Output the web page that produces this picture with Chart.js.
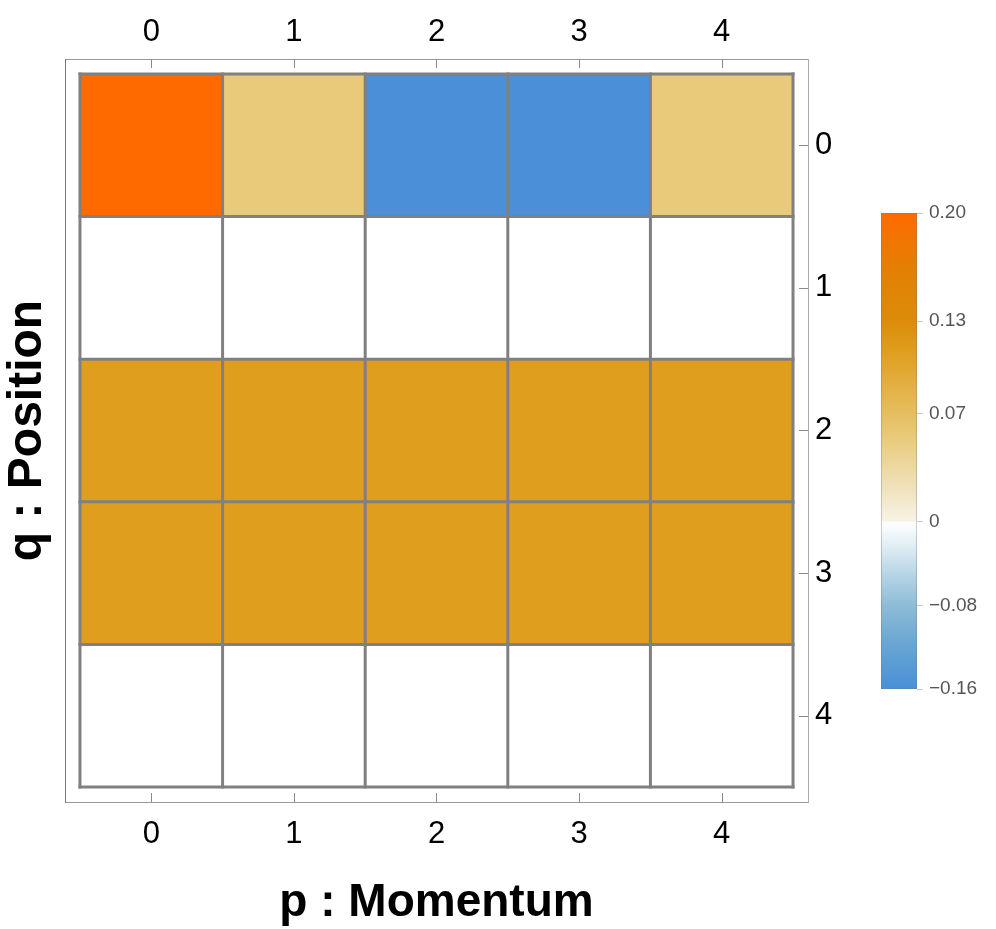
<!DOCTYPE html>
<html>
<head>
<meta charset="utf-8">
<script src="https://cdn.jsdelivr.net/npm/chart.js@4/dist/chart.umd.min.js"></script>
<style>
  html, body { margin: 0; padding: 0; background: #fff; }
  #wrap { position: relative; width: 996px; height: 929px; }
  #wrap canvas { position: absolute; left: 0; top: 0; }
</style>
</head>
<body>
<div id="wrap">
  <canvas id="matriz" width="996" height="929"></canvas>
  <canvas id="barra" width="996" height="929"></canvas>
</div>
<script>
// momentum (columns) and position (rows)
const momento = [0, 1, 2, 3, 4];
const posicion = [0, 1, 2, 3, 4];

// one array per row q, values for p = 0..4
const filaQ0 = [0.20, 0.055, -0.16, -0.16, 0.055];
const filaQ1 = [0, 0, 0, 0, 0];
const filaQ2 = [0.11, 0.11, 0.11, 0.11, 0.11];
const filaQ3 = [0.11, 0.11, 0.11, 0.11, 0.11];
const filaQ4 = [0, 0, 0, 0, 0];
const filas = [filaQ0, filaQ1, filaQ2, filaQ3, filaQ4];

// colour bar ticks
const barraTicks = [0.20, 0.13, 0.07, 0, -0.08, -0.16];
const barraEtiquetas = ['0.20', '0.13', '0.07', '0', '\u22120.08', '\u22120.16'];
const vMax = 0.20;
const vMin = -0.16;

// colour map stops (value, colour)
const paradas = [
    [0.20, '#ff6a00'],
    [0.165, '#e47f04'],
    [0.13, '#db8c0a'],
    [0.11, '#e09e1e'],
    [0.055, '#e8ca7a'],
    [0.02, '#f0e3bf'],
    [0.0005, '#f7f3e4'],
    [0, '#ffffff'],
    [-0.02, '#e4f0f6'],
    [-0.05, '#b7d5e6'],
    [-0.08, '#8dbcd7'],
    [-0.12, '#66a4d2'],
    [-0.16, '#4a8fd8']
];

function hexRgb(h) {
    return [parseInt(h.slice(1, 3), 16), parseInt(h.slice(3, 5), 16), parseInt(h.slice(5, 7), 16)];
}

function colorDe(v) {
    if (v === 0) return '#ffffff';
    for (let i = 0; i < paradas.length - 1; i++) {
        const [a, ca] = paradas[i];
        const [b, cb] = paradas[i + 1];
        if (v <= a && v >= b) {
            const t = a === b ? 0 : (a - v) / (a - b);
            const x = hexRgb(ca), y = hexRgb(cb);
            const c = x.map((k, j) => Math.round(k + (y[j] - k) * t));
            return `rgb(${c[0]},${c[1]},${c[2]})`;
        }
    }
    return v > 0 ? paradas[0][1] : paradas[paradas.length - 1][1];
}

// the colour bar scale is not linear: positive part takes 65% of the height
const fracPos = 0.649;
function posBarra(v) {
    return v >= 0 ? fracPos * v / vMax : -(1 - fracPos) * v / vMin;
}

const fuenteBase = "'Liberation Sans', Arial, sans-serif";
const gris = '#808080';
const rango = { min: -0.605, max: 4.605 };

// cell borders drawn over the bars
const lineasCeldas = {
    id: 'lineasCeldas',
    afterDatasetsDraw(chart) {
        const { ctx, scales: { x, y } } = chart;
        const bordes = [-0.5, 0.5, 1.5, 2.5, 3.5, 4.5];
        ctx.save();
        ctx.strokeStyle = gris;
        ctx.lineWidth = 3;
        ctx.lineCap = 'square';
        bordes.forEach(b => {
            const px = x.getPixelForValue(b);
            ctx.beginPath();
            ctx.moveTo(px, y.getPixelForValue(-0.5));
            ctx.lineTo(px, y.getPixelForValue(4.5));
            ctx.stroke();
            const py = y.getPixelForValue(b);
            ctx.beginPath();
            ctx.moveTo(x.getPixelForValue(-0.5), py);
            ctx.lineTo(x.getPixelForValue(4.5), py);
            ctx.stroke();
        });
        ctx.restore();
    }
};

// frame ticks pointing inwards
const marcasMarco = {
    id: 'marcasMarco',
    afterDraw(chart) {
        const { ctx, chartArea: a, scales: { x, y } } = chart;
        const largo = 9;
        ctx.save();
        ctx.strokeStyle = '#8a8a8a';
        ctx.lineWidth = 1;
        momento.forEach(p => {
            const px = Math.round(x.getPixelForValue(p)) + 0.5;
            ctx.beginPath();
            ctx.moveTo(px, a.top); ctx.lineTo(px, a.top + largo);
            ctx.moveTo(px, a.bottom); ctx.lineTo(px, a.bottom - largo);
            ctx.stroke();
        });
        posicion.forEach(q => {
            const py = Math.round(y.getPixelForValue(q)) + 0.5;
            ctx.beginPath();
            ctx.moveTo(a.right, py); ctx.lineTo(a.right - largo, py);
            ctx.stroke();
        });
        ctx.restore();
    }
};

function ticksFijos(valores) {
    return function (scale) {
        scale.ticks = valores.map(v => ({ value: v }));
    };
}

function tamano(prop, valor) {
    return function (scale) { scale[prop] = valor; };
}

const datasets = filas.map((fila, q) => ({
    label: 'q = ' + q,
    data: momento.map(p => ({ x: p, y: [q - 0.5, q + 0.5] })),
    backgroundColor: fila.map(colorDe),
    borderWidth: 0,
    grouped: false,
    barPercentage: 1,
    categoryPercentage: 1
}));

new Chart(document.getElementById('matriz'), {
    type: 'bar',
    data: { datasets: datasets },
    options: {
        responsive: false,
        animation: false,
        events: [],
        layout: { padding: 0 },
        plugins: { legend: { display: false }, tooltip: { enabled: false } },
        scales: {
            x: {
                type: 'linear', position: 'bottom', offset: false, ...rango,
                afterBuildTicks: ticksFijos(momento),
                afterFit: tamano('height', 127),
                grid: { display: false, drawTicks: false },
                border: { display: true, color: '#999', width: 1 },
                ticks: { color: '#000', padding: 14, font: { family: fuenteBase, size: 31 } },
                title: {
                    display: true, text: 'p : Momentum', color: '#000',
                    font: { family: fuenteBase, size: 46, weight: 'bold', lineHeight: 1.1 },
                    padding: { top: 0, bottom: 0 }
                }
            },
            x2: {
                type: 'linear', position: 'top', offset: false, ...rango,
                afterBuildTicks: ticksFijos(momento),
                afterFit: tamano('height', 59),
                grid: { display: false, drawTicks: false },
                border: { display: true, color: '#999', width: 1 },
                ticks: { color: '#000', padding: 8, font: { family: fuenteBase, size: 31 } }
            },
            y: {
                type: 'linear', position: 'left', reverse: true, offset: false, ...rango,
                afterBuildTicks: ticksFijos(posicion),
                afterFit: tamano('width', 65),
                grid: { display: false, drawTicks: false },
                border: { display: true, color: '#777', width: 1 },
                ticks: { display: false },
                title: {
                    display: true, text: 'q : Position', color: '#000',
                    font: { family: fuenteBase, size: 48, weight: 'bold', lineHeight: 1.15 },
                    padding: { top: 0, bottom: 0 }
                }
            },
            y2: {
                type: 'linear', position: 'right', reverse: true, offset: false, ...rango,
                afterBuildTicks: ticksFijos(posicion),
                afterFit: tamano('width', 188),
                grid: { display: false, drawTicks: false },
                border: { display: true, color: '#aaa', width: 1 },
                ticks: { color: '#000', padding: 7, font: { family: fuenteBase, size: 31 } }
            }
        }
    },
    plugins: [lineasCeldas, marcasMarco]
});

// colour bar
const degradado = {
    id: 'degradado',
    beforeDatasetsDraw(chart) {
        const { ctx, chartArea: a, scales: { y } } = chart;
        const g = ctx.createLinearGradient(0, a.bottom, 0, a.top);
        const alto = a.bottom - a.top;
        paradas.slice().reverse().forEach(([v, c]) => {
            const t = (a.bottom - y.getPixelForValue(posBarra(v))) / alto;
            g.addColorStop(Math.min(1, Math.max(0, t)), c);
        });
        ctx.save();
        ctx.fillStyle = g;
        ctx.fillRect(a.left, a.top, a.right - a.left, alto);
        ctx.strokeStyle = 'rgba(120,120,120,0.35)';
        ctx.lineWidth = 1;
        ctx.strokeRect(a.left + 0.5, a.top + 0.5, a.right - a.left - 1, alto - 1);
        ctx.restore();
    }
};

new Chart(document.getElementById('barra'), {
    type: 'bar',
    data: { labels: [''], datasets: [{ data: [], label: 'escala' }] },
    options: {
        responsive: false,
        animation: false,
        events: [],
        layout: { padding: { left: 881, top: 213, bottom: 240, right: 0 } },
        plugins: { legend: { display: false }, tooltip: { enabled: false } },
        scales: {
            x: { display: false },
            y: {
                type: 'linear', position: 'right',
                min: posBarra(vMin), max: posBarra(vMax),
                afterBuildTicks: ticksFijos(barraTicks.map(posBarra)),
                afterFit: tamano('width', 79),
                grid: { drawOnChartArea: false, drawTicks: true, tickLength: 6, color: '#c8c8c8' },
                border: { display: false },
                ticks: {
                    color: '#555', padding: 6,
                    font: { family: fuenteBase, size: 19 },
                    callback: function (valor, i) { return barraEtiquetas[i]; }
                }
            }
        }
    },
    plugins: [degradado]
});
</script>
</body>
</html>
